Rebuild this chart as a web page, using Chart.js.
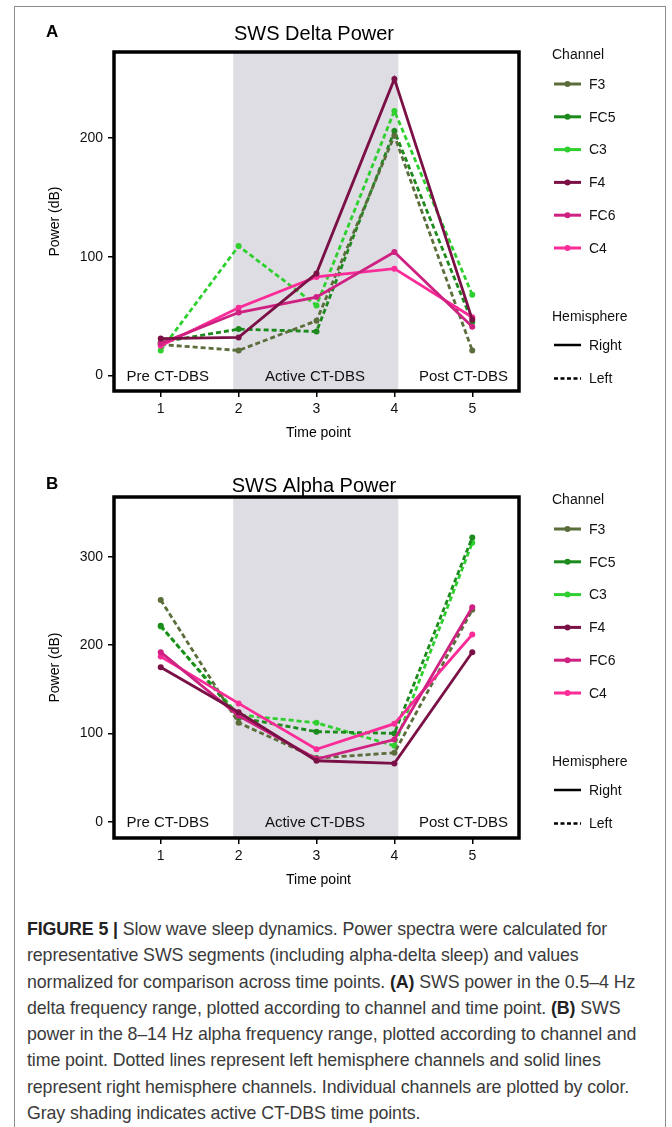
<!DOCTYPE html>
<html>
<head>
<meta charset="utf-8">
<script src="https://cdn.jsdelivr.net/npm/chart.js@4.4.0/dist/chart.umd.min.js"></script>
<style>
  html, body { margin: 0; padding: 0; background: #fff; }
  body { width: 672px; height: 1127px; position: relative; overflow: hidden; }
  #frame { position: absolute; left: 14px; top: 6px; width: 652px; height: 1140px;
           border: 1.5px solid #8c8c8c; border-bottom: none; box-sizing: border-box; }
  canvas { position: absolute; left: 0; }
  #chartA { top: 0; }
  #chartB { top: 450px; }
  #caption { position: absolute; left: 27px; top: 916px; font-family: "Liberation Sans", Arial, sans-serif;
             font-size: 17.8px; line-height: 26.3px; color: #3a3a3a; white-space: nowrap; letter-spacing: -0.1px; }
  #caption b { color: #222; }
</style>
</head>
<body>
<div id="frame"></div>
<canvas id="chartA" width="672" height="450"></canvas>
<canvas id="chartB" width="672" height="450"></canvas>
<div id="caption">
<b>FIGURE 5 |</b> Slow wave sleep dynamics. Power spectra were calculated for<br>
representative SWS segments (including alpha-delta sleep) and values<br>
normalized for comparison across time points. <b>(A)</b> SWS power in the 0.5–4 Hz<br>
delta frequency range, plotted according to channel and time point. <b>(B)</b> SWS<br>
power in the 8–14 Hz alpha frequency range, plotted according to channel and<br>
time point. Dotted lines represent left hemisphere channels and solid lines<br>
represent right hemisphere channels. Individual channels are plotted by color.<br>
Gray shading indicates active CT-DBS time points.
</div>
<script>
// time points and channels
const timePoints = [1, 2, 3, 4, 5];
const channels = ['F3', 'FC5', 'C3', 'F4', 'FC6', 'C4'];
const leftChannels = ['F3', 'FC5', 'C3'];
const channelColors = ['#5b6d3b', '#1c8a1c', '#2fcf2f', '#7a1045', '#cf2182', '#fb2b98'];

// SWS delta power (panel A)
const deltaF3  = [26, 21, 46, 202, 21];
const deltaFC5 = [28, 39, 37, 206, 45];
const deltaC3  = [21, 109, 59, 223, 68];
const deltaF4  = [31, 32, 86, 250, 47];
const deltaFC6 = [27, 53, 66, 104, 41];
const deltaC4  = [25, 57, 83, 90, 49];

// SWS alpha power (panel B)
const alphaF3  = [251, 112, 72, 78, 240];
const alphaFC5 = [222, 118, 102, 100, 322];
const alphaC3  = [221, 121, 112, 86, 316];
const alphaF4  = [175, 124, 69, 66, 192];
const alphaFC6 = [192, 120, 71, 93, 243];
const alphaC4  = [187, 134, 82, 111, 212];

const deltaTicks = [0, 100, 200];
const alphaTicks = [0, 100, 200, 300];
const periodLabels = ['Pre CT-DBS', 'Active CT-DBS', 'Post CT-DBS'];

const FONT = '"Liberation Sans", Arial, sans-serif';

function makeDatasets(series) {
  return channels.map((ch, i) => {
    const left = leftChannels.includes(ch);
    return {
      label: ch,
      data: timePoints.map((t, j) => ({ x: t, y: series[i][j] })),
      borderColor: channelColors[i],
      backgroundColor: channelColors[i],
      borderWidth: 2.8,
      borderDash: left ? [5, 3] : [],
      pointRadius: 3,
      pointBorderWidth: 0,
      pointBackgroundColor: channelColors[i],
      order: left ? 2 : 1,
      tension: 0
    };
  });
}

const decor = {
  id: 'decor',
  beforeDatasetsDraw(chart, args, opts) {
    const { ctx, chartArea: a, scales: { x, y } } = chart;
    ctx.save();
    // active stimulation shading
    const x0 = x.getPixelForValue(1.93), x1 = x.getPixelForValue(4.05);
    ctx.fillStyle = '#dddde3';
    ctx.fillRect(x0, a.top, x1 - x0, a.bottom - a.top);
    // period labels
    ctx.fillStyle = '#111';
    ctx.font = '15px ' + FONT;
    ctx.textBaseline = 'middle';
    const ly = y.getPixelForValue(-1);
    ctx.textAlign = 'left';
    ctx.fillText(periodLabels[0], x.getPixelForValue(0.56), ly);
    ctx.textAlign = 'center';
    ctx.fillText(periodLabels[1], x.getPixelForValue(2.98), ly);
    ctx.textAlign = 'right';
    ctx.fillText(periodLabels[2], x.getPixelForValue(5.46), ly);
    ctx.restore();
  },
  afterDraw(chart, args, opts) {
    const { ctx, chartArea: a } = chart;
    ctx.save();
    // plot box
    ctx.strokeStyle = '#000';
    ctx.lineWidth = 3.5;
    ctx.strokeRect(a.left, a.top, a.right - a.left, a.bottom - a.top);
    // panel letter and title
    ctx.fillStyle = '#000';
    ctx.textBaseline = 'middle';
    ctx.font = 'bold 17px ' + FONT;
    ctx.textAlign = 'left';
    ctx.fillText(opts.letter, 46, opts.titleY);
    ctx.font = '20px ' + FONT;
    ctx.textAlign = 'center';
    ctx.fillText(opts.title, 314, opts.titleY + 2);
    // axis titles
    ctx.font = '14px ' + FONT;
    ctx.fillText('Time point', (a.left + a.right) / 2 + 2, a.bottom + 42);
    ctx.save();
    ctx.translate(55, (a.top + a.bottom) / 2);
    ctx.rotate(-Math.PI / 2);
    ctx.fillText('Power (dB)', 0, 0);
    ctx.restore();
    // legend
    const top = a.top + 3;
    ctx.textAlign = 'left';
    ctx.font = '14px ' + FONT;
    ctx.fillStyle = '#111';
    ctx.fillText('Channel', 552, top);
    channels.forEach((ch, i) => {
      const yy = top + 29 + i * 32.8;
      ctx.strokeStyle = channelColors[i];
      ctx.lineWidth = 3;
      ctx.beginPath(); ctx.moveTo(554, yy); ctx.lineTo(581, yy); ctx.stroke();
      ctx.fillStyle = channelColors[i];
      ctx.beginPath(); ctx.arc(567.5, yy, 3, 0, Math.PI * 2); ctx.fill();
      ctx.fillStyle = '#111';
      ctx.fillText(ch, 589, yy + 1);
    });
    ctx.fillText('Hemisphere', 552, top + 262);
    [['Right', []], ['Left', [4, 2.5]]].forEach((h, i) => {
      const yy = top + 290 + i * 33.5;
      ctx.strokeStyle = '#000';
      ctx.lineWidth = 2.5;
      ctx.setLineDash(h[1]);
      ctx.beginPath(); ctx.moveTo(554, yy); ctx.lineTo(581, yy); ctx.stroke();
      ctx.setLineDash([]);
      ctx.fillText(h[0], 589, yy + 1);
    });
    ctx.restore();
  }
};

function makeChart(id, series, yTicks, yMin, yMax, padTop, xAxisH, letter, title, titleY) {
  return new Chart(document.getElementById(id).getContext('2d'), {
    type: 'line',
    data: { datasets: makeDatasets(series) },
    options: {
      responsive: false,
      devicePixelRatio: 1,
      animation: false,
      layout: { padding: { top: padTop, right: 153, left: 0, bottom: 0 } },
      plugins: {
        legend: { display: false },
        tooltip: { enabled: false },
        decor: { letter: letter, title: title, titleY: titleY }
      },
      scales: {
        x: {
          type: 'linear',
          min: 0.4,
          max: 5.6,
          afterBuildTicks: s => { s.ticks = timePoints.map(v => ({ value: v })); },
          afterFit: s => { s.height = xAxisH; },
          grid: { drawOnChartArea: false, drawTicks: true, tickLength: 6, color: '#000', lineWidth: 1.5 },
          border: { display: false },
          ticks: { color: '#111', font: { family: FONT, size: 14 }, padding: 4, maxRotation: 0 }
        },
        y: {
          min: yMin,
          max: yMax,
          afterBuildTicks: s => { s.ticks = yTicks.map(v => ({ value: v })); },
          afterFit: s => { s.width = 114; },
          grid: { drawOnChartArea: false, drawTicks: true, tickLength: 6, color: '#000', lineWidth: 1.5 },
          border: { display: false },
          ticks: { color: '#111', font: { family: FONT, size: 14 }, padding: 5 }
        }
      }
    },
    plugins: [decor]
  });
}

makeChart('chartA', [deltaF3, deltaFC5, deltaC3, deltaF4, deltaFC6, deltaC4],
  deltaTicks, -13.2, 272.7, 52, 450 - 391, 'A', 'SWS Delta Power', 32);
makeChart('chartB', [alphaF3, alphaFC5, alphaC3, alphaF4, alphaFC6, alphaC4],
  alphaTicks, -18.5, 367.8, 47, 450 - 388, 'B', 'SWS Alpha Power', 34);
</script>
</body>
</html>
